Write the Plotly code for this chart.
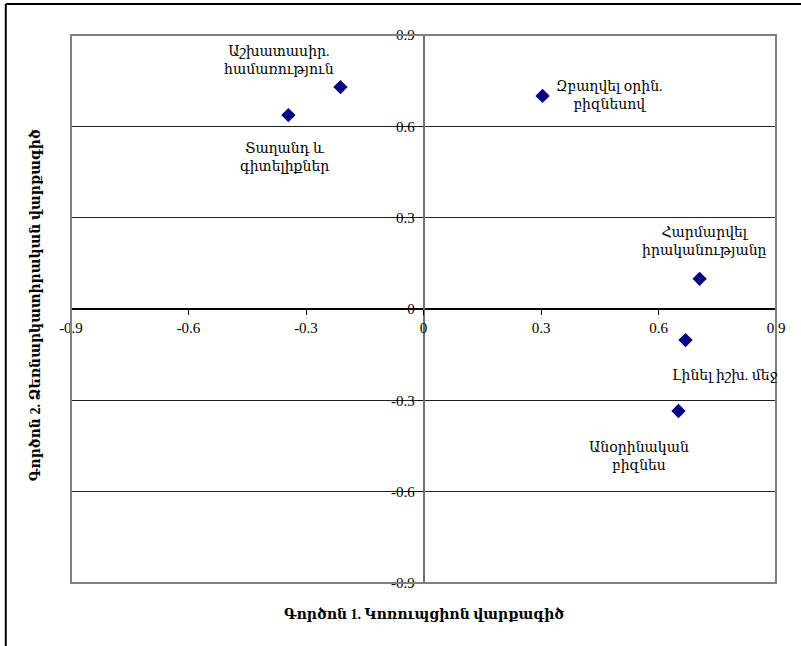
import plotly.graph_objects as go

labels = [
    "Աշխատասիր.<br>համառություն",
    "Տաղանդ և<br>գիտելիքներ",
    "Զբաղվել օրին.<br>բիզնեսով",
    "Հարմարվել<br>իրականությանը",
    "Լինել իշխ. մեջ",
    "Անօրինական<br>բիզնես",
]
factor1 = [-0.212, -0.345, 0.304, 0.705, 0.669, 0.651]
factor2 = [0.729, 0.637, 0.700, 0.099, -0.102, -0.335]
# label offsets in pixels (dx, dy up-positive)
label_dx = [-61, -4, 67, 5, 39, -39]
label_dy = [27, -42, 0, 37, -35, -46]

tickvals = [-0.9, -0.6, -0.3, 0, 0.3, 0.6, 0.9]
ticktext = ["-0.9", "-0.6", "-0.3", "0", "0.3", "0.6", "0.9"]

xtitle = "Գործոն 1. Կոռուպցիոն վարքագիծ"
ytitle = "Գործոն 2. Ձեռնարկատիրական վարքագիծ"

serif = "Liberation Serif, DejaVu Serif, serif"

fig = go.Figure()
fig.add_trace(go.Scatter(
    x=factor1, y=factor2, mode="markers",
    marker=dict(symbol="diamond", size=11, color="#000080"),
    showlegend=False, hoverinfo="skip",
))

for lab, x, y, dx, dy in zip(labels, factor1, factor2, label_dx, label_dy):
    fig.add_annotation(x=x, y=y, text=lab, showarrow=False,
                       xshift=dx, yshift=dy,
                       font=dict(family=serif, size=14, color="#000"),
                       align="center")

fig.add_annotation(xref="paper", yref="paper", x=0.5, y=-0.057,
                   text="<b>" + xtitle + "</b>", showarrow=False,
                   font=dict(family=serif, size=14, color="#000"),
                   yanchor="middle")
fig.add_annotation(xref="paper", yref="paper", x=-0.051, y=0.507,
                   text="<b>" + ytitle + "</b>", showarrow=False, textangle=-90,
                   font=dict(family=serif, size=14, color="#000"),
                   xanchor="center")

# plot area frame
fig.add_shape(type="rect", xref="paper", yref="paper", x0=0, y0=0, x1=1, y1=1,
              line=dict(color="#808080", width=2), layer="above")
# outer chart frame (left and top edges)
fig.add_shape(type="line", xref="paper", yref="paper", x0=-0.0925, y0=-0.2,
              x1=-0.0925, y1=1.0565, line=dict(color="#000", width=2))
fig.add_shape(type="line", xref="paper", yref="paper", x0=-0.0925, y0=1.0565,
              x1=1.2, y1=1.0565, line=dict(color="#000", width=2))

fig.update_layout(
    width=801, height=646,
    margin=dict(l=71, r=25, t=35, b=63),
    paper_bgcolor="white", plot_bgcolor="white",
    font=dict(family=serif, size=15, color="#000"),
    xaxis=dict(range=[-0.9, 0.9], domain=[0, 1], anchor="free", position=0.5,
               tickvals=tickvals, ticktext=ticktext, showgrid=False, zeroline=False,
               showline=True, linecolor="#000", linewidth=1.5,
               ticks="outside", ticklen=5, tickcolor="#000",
               tickfont=dict(family=serif, size=15)),
    yaxis=dict(range=[-0.9, 0.9], domain=[0, 1], anchor="free", position=0.5,
               tickvals=tickvals, ticktext=ticktext, showgrid=True, gridcolor="#202020",
               gridwidth=1, zeroline=False,
               showline=True, linecolor="#707070", linewidth=1.5,
               ticks="outside", ticklen=5, tickcolor="#000",
               tickfont=dict(family=serif, size=15)),
)

fig.write_html("out.html", config={"displayModeBar": False},
               post_script="document.body.style.margin='0';document.body.style.overflow='hidden';")
